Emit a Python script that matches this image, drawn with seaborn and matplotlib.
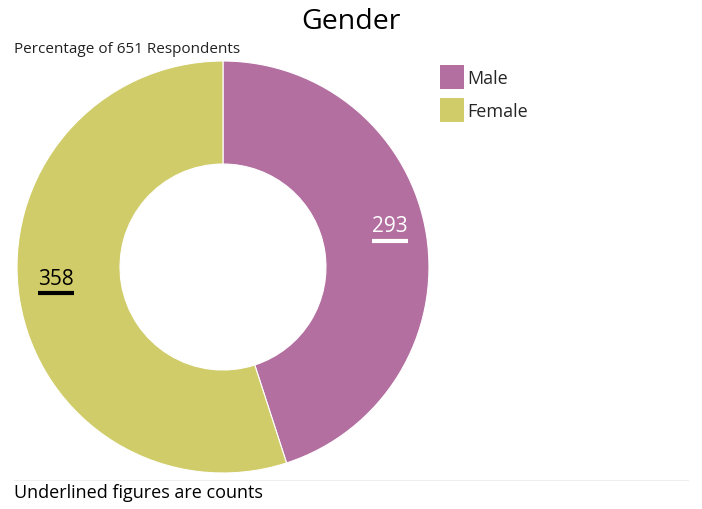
import matplotlib
matplotlib.use("Agg")
import matplotlib.pyplot as plt
import seaborn as sns
import numpy as np
from matplotlib.patches import Patch
from matplotlib.lines import Line2D

# data
genders = ["Male", "Female"]
counts = [293, 358]
colors = ["#b36fa0", "#d0cc69"]
label_colors = ["white", "black"]
title = "Gender"
subtitle = "Percentage of 651 Respondents"
footer = "Underlined figures are counts"

sns.set_theme(style="white")
plt.rcParams["font.family"] = ["Open Sans", "DejaVu Sans"]

fig = plt.figure(figsize=(7.02, 5.10), dpi=100)
ax = fig.add_axes([0.0242, 0.0706, 0.5869, 0.8078])

wedges, _ = ax.pie(counts, colors=colors, startangle=90, counterclock=False,
                   radius=1, wedgeprops=dict(width=0.5, edgecolor="white", linewidth=0.8))
ax.set_xlim(-1, 1)
ax.set_ylim(-1, 1)
ax.set_aspect("equal")
ax.axis("off")

# count labels, placed at each wedge's mid angle
texts = []
for w, c, tc in zip(wedges, counts, label_colors):
    ang = np.deg2rad((w.theta1 + w.theta2) / 2)
    x, y = 0.82 * np.cos(ang), 0.82 * np.sin(ang)
    t = ax.annotate(str(c), (x, y), xytext=(0, 3), textcoords="offset points",
                    ha="center", va="bottom", fontsize=15, color=tc)
    texts.append((t, x, y, tc))

fig.canvas.draw()
renderer = fig.canvas.get_renderer()
inv = ax.transData.inverted()
for t, x, y, tc in texts:
    bb = t.get_window_extent(renderer)
    x0 = inv.transform((bb.x0, bb.y0))[0]
    x1 = inv.transform((bb.x1, bb.y0))[0]
    ax.plot([x0, x1], [y, y], color=tc, lw=3, solid_capstyle="butt")

handles = [Patch(facecolor=c, edgecolor="none") for c in colors]
fig.legend(handles, genders, loc="upper left", bbox_to_anchor=(440 / 702, 1 - 66 / 510),
           bbox_transform=fig.transFigure, frameon=False, fontsize=13, borderpad=0,
           borderaxespad=0, handlelength=1.35, handleheight=1.67, handletextpad=0.15,
           labelspacing=0.5)

fig.text(0.5, 1 - 29 / 510, title, ha="center", va="baseline", fontsize=20.5, color="black")
fig.text(14 / 702, 1 - 53 / 510, subtitle, ha="left", va="baseline", fontsize=11, color="#222222")
fig.text(14 / 702, 1 - 498 / 510, footer, ha="left", va="baseline", fontsize=13, color="black")
fig.add_artist(Line2D([14 / 702, 688 / 702], [1 - 481 / 510] * 2, transform=fig.transFigure,
                      color="#eeeeee", lw=0.8))

fig.savefig("out.png", dpi=100)
